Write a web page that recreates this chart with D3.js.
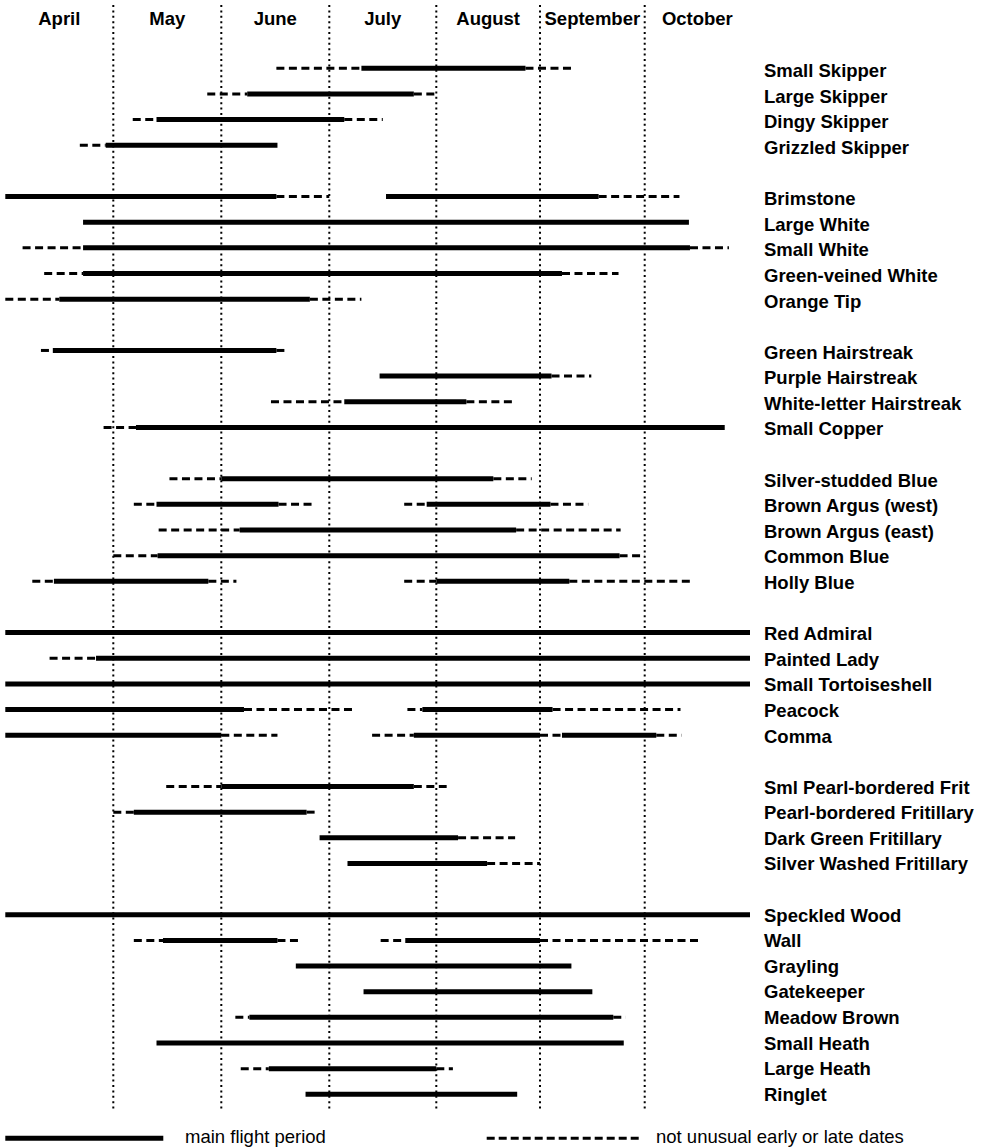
<!DOCTYPE html>
<html>
<head>
<meta charset="utf-8">
<script src="https://cdn.jsdelivr.net/npm/d3@7"></script>
<style>
  html, body { margin: 0; padding: 0; background: #fff; }
  svg { display: block; }
  text { font-family: "Liberation Sans", Arial, Helvetica, sans-serif; fill: #000; }
</style>
</head>
<body>
<div id="chart"></div>
<script>
// ---- Data (values in month units: 0 = start of April, 7 = end of October) ----
const months = ["April", "May", "June", "July", "August", "September", "October"];

const species = [
  "Small Skipper", "Large Skipper", "Dingy Skipper", "Grizzled Skipper", "",
  "Brimstone", "Large White", "Small White", "Green-veined White", "Orange Tip", "",
  "Green Hairstreak", "Purple Hairstreak", "White-letter Hairstreak", "Small Copper", "",
  "Silver-studded Blue", "Brown Argus (west)", "Brown Argus (east)", "Common Blue", "Holly Blue", "",
  "Red Admiral", "Painted Lady", "Small Tortoiseshell", "Peacock", "Comma", "",
  "Sml Pearl-bordered Frit", "Pearl-bordered Fritillary", "Dark Green Fritillary", "Silver Washed Fritillary", "",
  "Speckled Wood", "Wall", "Grayling", "Gatekeeper", "Meadow Brown", "Small Heath", "Large Heath", "Ringlet"
];

// main flight period(s) per row
const mainFlight = [
  [[3.30, 4.86]],
  [[2.24, 3.79]],
  [[1.40, 3.14]],
  [[0.93, 2.52]],
  [],
  [[0, 2.51], [3.53, 5.56]],
  [[0.72, 6.42]],
  [[0.72, 6.43]],
  [[0.72, 5.21]],
  [[0.50, 2.82]],
  [],
  [[0.44, 2.51]],
  [[3.47, 5.11]],
  [[3.14, 4.29]],
  [[1.21, 6.76]],
  [],
  [[2.00, 4.55]],
  [[1.40, 2.53], [3.91, 5.10]],
  [[2.17, 4.77]],
  [[1.41, 5.76]],
  [[0.45, 1.88], [4.00, 5.28]],
  [],
  [[0, 7]],
  [[0.84, 7]],
  [[0, 7]],
  [[0, 2.21], [3.87, 5.12]],
  [[0, 2.00], [3.79, 5.00], [5.21, 6.11]],
  [],
  [[2.00, 3.79]],
  [[1.19, 2.79]],
  [[2.91, 4.21]],
  [[3.17, 4.49]],
  [],
  [[0, 7]],
  [[1.46, 2.52], [3.71, 5.00]],
  [[2.69, 5.30]],
  [[3.32, 5.50]],
  [[2.26, 5.70]],
  [[1.40, 5.80]],
  [[2.44, 4.00]],
  [[2.78, 4.78]]
];

// not unusual early or late dates per row
const unusualDates = [
  [[2.51, 3.30], [4.86, 5.33]],
  [[1.87, 2.24], [3.79, 4.00]],
  [[1.18, 1.40], [3.14, 3.50]],
  [[0.69, 0.93]],
  [],
  [[2.51, 3.00], [5.56, 6.33]],
  [],
  [[0.16, 0.72], [6.43, 6.80]],
  [[0.36, 0.72], [5.21, 5.75]],
  [[0, 0.50], [2.82, 3.30]],
  [],
  [[0.33, 0.44], [2.51, 2.61]],
  [[5.11, 5.49]],
  [[2.46, 3.14], [4.29, 4.77]],
  [[0.91, 1.21]],
  [],
  [[1.52, 2.00], [4.55, 4.92]],
  [[1.19, 1.40], [2.53, 2.85], [3.70, 3.91], [5.10, 5.46]],
  [[1.42, 2.17], [4.77, 5.77]],
  [[1.00, 1.41], [5.76, 6.00]],
  [[0.25, 0.45], [1.88, 2.14], [3.70, 4.00], [5.28, 6.43]],
  [],
  [],
  [[0.41, 0.84]],
  [],
  [[2.21, 3.23], [3.73, 3.87], [5.12, 6.34]],
  [[2.00, 2.52], [3.40, 3.79], [5.00, 5.21], [6.11, 6.35]],
  [],
  [[1.49, 2.00], [3.79, 4.10]],
  [[1.00, 1.19], [2.79, 2.89]],
  [[4.21, 4.76]],
  [[4.49, 5.00]],
  [],
  [],
  [[1.19, 1.46], [2.52, 2.74], [3.48, 3.71], [5.00, 6.54]],
  [],
  [],
  [[2.13, 2.26], [5.70, 5.82]],
  [],
  [[2.18, 2.44], [4.00, 4.16]],
  []
];

const legendLabels = ["main flight period", "not unusual early or late dates"];

// ---- Layout ----
const W = 991, H = 1148;
const svg = d3.select("#chart").append("svg").attr("width", W).attr("height", H);

// piecewise month scale (month columns are not all equal width in the original)
const x = d3.scaleLinear()
  .domain(d3.range(0, months.length + 1))
  .range([5.3, 113.3, 221.3, 329.3, 436.3, 540, 644.7, 750]);

const rowIdx = d3.range(species.length);
const y = d3.scalePoint().domain(rowIdx).range([68.3, 1094.3]);
const labelY = d3.scalePoint().domain(rowIdx).range([77.3, 1100.7]);

const FONT = "18.5px";

// month headers
svg.append("g").selectAll("text").data(months).join("text")
  .attr("x", (d, i) => x(i + 0.5))
  .attr("y", 25)
  .attr("text-anchor", "middle")
  .style("font-size", FONT)
  .style("font-weight", "bold")
  .text(d => d);

// dotted month boundaries
svg.append("g").selectAll("line").data(d3.range(1, months.length)).join("line")
  .attr("x1", d => x(d)).attr("x2", d => x(d))
  .attr("y1", 5).attr("y2", 1110)
  .attr("stroke", "#000")
  .attr("stroke-width", 2)
  .attr("stroke-dasharray", "2,3.4");

// rows
const rows = svg.append("g").selectAll("g").data(rowIdx).join("g");

rows.selectAll("line.dash")
  .data(i => unusualDates[i].map(s => ({ s, i })))
  .join("line").attr("class", "dash")
  .attr("x1", d => x(d.s[0])).attr("x2", d => x(d.s[1]))
  .attr("y1", d => y(d.i)).attr("y2", d => y(d.i))
  .attr("stroke", "#000")
  .attr("stroke-width", 3)
  .attr("stroke-dasharray", "8,4.5");

rows.selectAll("line.main")
  .data(i => mainFlight[i].map(s => ({ s, i })))
  .join("line").attr("class", "main")
  .attr("x1", d => x(d.s[0])).attr("x2", d => x(d.s[1]))
  .attr("y1", d => y(d.i)).attr("y2", d => y(d.i))
  .attr("stroke", "#000")
  .attr("stroke-width", 5);

// species labels
svg.append("g").selectAll("text").data(rowIdx.filter(i => species[i])).join("text")
  .attr("x", 764)
  .attr("y", i => labelY(i))
  .style("font-size", FONT)
  .style("font-weight", "bold")
  .text(i => species[i]);

// legend
const lg = svg.append("g");
lg.append("line").attr("x1", 5.3).attr("x2", 163.3).attr("y1", 1138.3).attr("y2", 1138.3)
  .attr("stroke", "#000").attr("stroke-width", 5);
lg.append("text").attr("x", 185).attr("y", 1143).style("font-size", FONT).text(legendLabels[0]);
lg.append("line").attr("x1", 486.7).attr("x2", 639.3).attr("y1", 1138.3).attr("y2", 1138.3)
  .attr("stroke", "#000").attr("stroke-width", 3).attr("stroke-dasharray", "8,4");
lg.append("text").attr("x", 656).attr("y", 1143).style("font-size", FONT).text(legendLabels[1]);
</script>
</body>
</html>
